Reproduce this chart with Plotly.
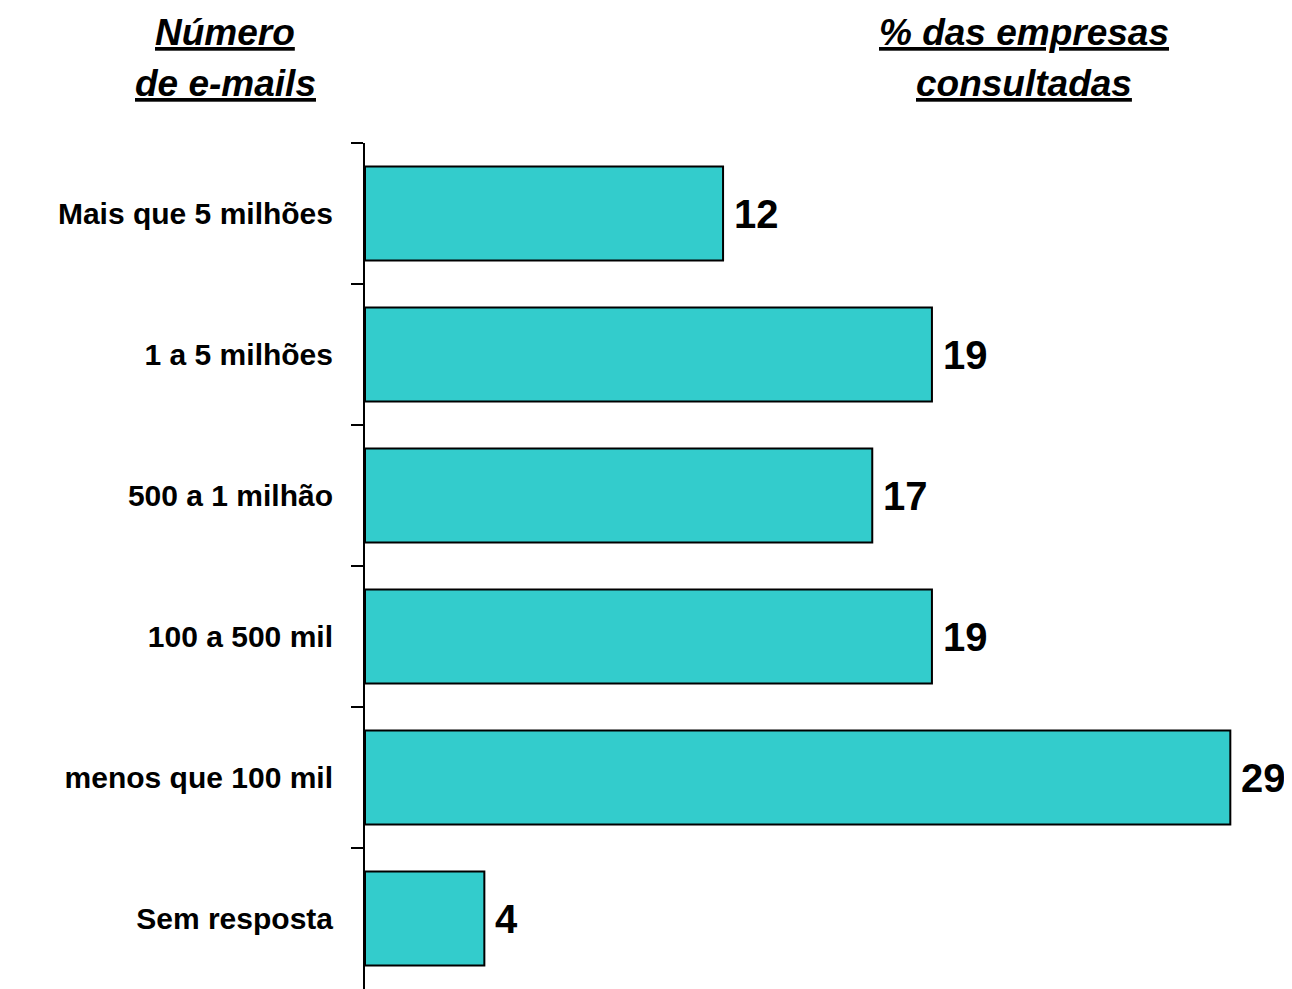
import plotly.graph_objects as go

categories = ["Mais que 5 milhões", "1 a 5 milhões", "500 a 1 milhão",
              "100 a 500 mil", "menos que 100 mil", "Sem resposta"]
values = [12, 19, 17, 19, 29, 4]

title_left = ["Número", "de e-mails"]
title_right = ["% das empresas", "consultadas"]

FONT = "Liberation Sans, Arial, sans-serif"

fig = go.Figure()
fig.add_trace(go.Bar(
    x=values, y=categories, orientation="h",
    marker=dict(color="#33CCCC", line=dict(color="black", width=2)),
    width=0.667, hoverinfo="skip",
))

annotations = []
for c, v in zip(categories, values):
    annotations.append(dict(
        x=v, y=c, xref="x", yref="y", text=f"<b>{v}</b>", showarrow=False,
        xanchor="left", yanchor="middle", xshift=9,
        font=dict(family=FONT, size=40, color="black"),
    ))

# page has an 8px body margin; figure is sized to end at the window edge
OFF = 8
W, H = 1292 - OFF, 989 - OFF
ML, MR, MT, MB = 365 - OFF, 2, 143 - OFF, 0
pw, ph = W - ML - MR, H - MT - MB

def px(xp):
    return (xp - OFF - ML) / pw

def py(yp):
    return 1 + (MT - (yp - OFF)) / ph

for (txt, cx, cy) in [(title_left[0], 225, 33), (title_left[1], 225, 84),
                      (title_right[0], 1024, 33), (title_right[1], 1024, 84)]:
    annotations.append(dict(
        x=px(cx), y=py(cy), xref="paper", yref="paper",
        text=f"<b><i><u>{txt}</u></i></b>", showarrow=False,
        xanchor="center", yanchor="middle",
        font=dict(family=FONT, size=37, color="black"),
    ))

fig.update_layout(
    width=W, height=H,
    margin=dict(l=ML, r=MR, t=MT, b=MB, pad=0, autoexpand=False),
    paper_bgcolor="white", plot_bgcolor="white",
    showlegend=False,
    annotations=annotations,
    bargap=0.333,
)
fig.update_xaxes(range=[0, 31], visible=False, showgrid=False, zeroline=False)
fig.update_yaxes(
    type="category", autorange="reversed",
    showline=True, linecolor="black", linewidth=2,
    ticks="outside", tickson="boundaries", ticklen=12, tickwidth=2, tickcolor="black",
    showgrid=False, zeroline=False,
    tickfont=dict(family=FONT, size=30, color="black"),
    ticklabelstandoff=24,
    tickprefix="<b>", ticksuffix="</b>",
)

fig.write_html("out.html")
